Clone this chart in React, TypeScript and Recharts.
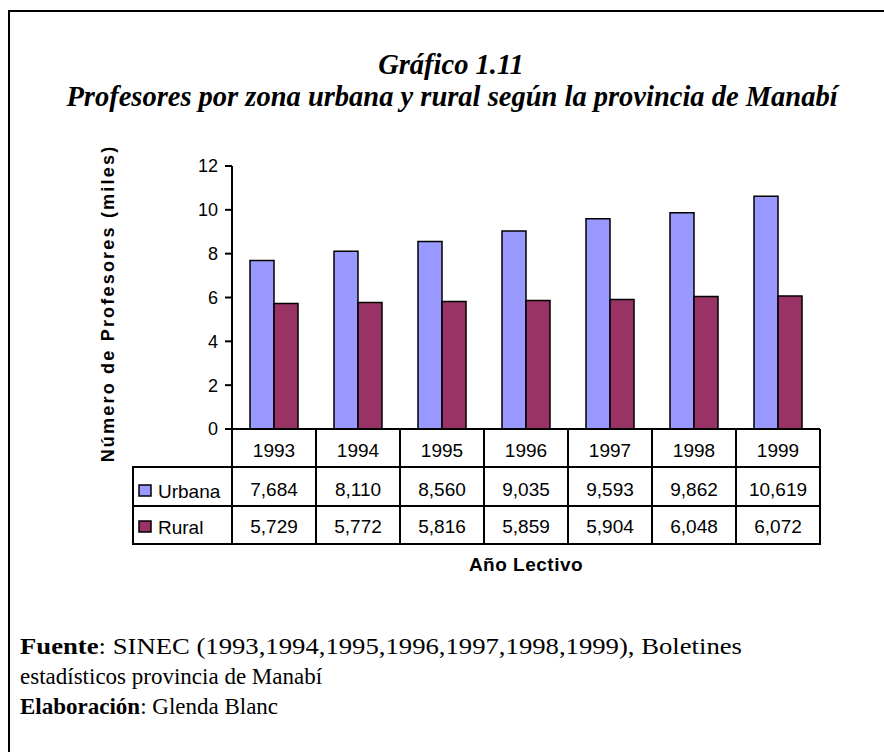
import React from 'react';
import { BarChart, Bar, XAxis, YAxis } from 'recharts';

const years = ['1993', '1994', '1995', '1996', '1997', '1998', '1999'];
const urbana = [7684, 8110, 8560, 9035, 9593, 9862, 10619];
const rural = [5729, 5772, 5816, 5859, 5904, 6048, 6072];
const yTicks = [0, 2, 4, 6, 8, 10, 12];

const seriesInfo = [
  { key: 'urbana', name: 'Urbana', color: '#9999FF', values: urbana },
  { key: 'rural', name: 'Rural', color: '#993366', values: rural },
];

const data = years.map((y, i) => ({
  year: y,
  urbana: urbana[i] / 1000,
  rural: rural[i] / 1000,
}));

const W = 884;
const H = 752;
const PLOT_LEFT = 232;
const PLOT_RIGHT = 820;
const PLOT_TOP = 166;
const PLOT_BOTTOM = 429;
const Y_AXIS_W = 60;
const X_AXIS_H = 150;
const STEP = (PLOT_RIGHT - PLOT_LEFT) / years.length;
const ROWS = [38, 39, 38];
const LEGEND_COL_W = 99;
const SANS = 'Liberation Sans, Arial, sans-serif';
const SERIF = 'Liberation Serif, Times New Roman, serif';
const fmt = (n: number) => n.toLocaleString('en-US');

const TableTick = (props: any) => {
  const { x, y, payload, index } = props;
  const left = x - STEP / 2;
  const right = x + STEP / 2;
  const r1 = y + ROWS[0];
  const r2 = r1 + ROWS[1];
  const r3 = r2 + ROWS[2];
  const i = index;
  const lines: React.ReactNode[] = [];
  lines.push(<line key="v" x1={left} y1={y} x2={left} y2={r3 + 1} stroke="#000" strokeWidth={2} />);
  if (i === years.length - 1) {
    lines.push(<line key="vr" x1={right} y1={y} x2={right} y2={r3 + 1} stroke="#000" strokeWidth={2} />);
  }
  const hx1 = i === 0 ? left - LEGEND_COL_W - 1 : left;
  [r1, r2, r3].forEach((ry, k) => {
    lines.push(<line key={'h' + k} x1={hx1} y1={ry} x2={right + 1} y2={ry} stroke="#000" strokeWidth={2} />);
  });
  const legend: React.ReactNode[] = [];
  if (i === 0) {
    const lx = left - LEGEND_COL_W;
    legend.push(<line key="lv" x1={lx} y1={r1} x2={lx} y2={r3 + 1} stroke="#000" strokeWidth={2} />);
    seriesInfo.forEach((s, k) => {
      const top = k === 0 ? r1 : r2;
      const mid = top + (k === 0 ? 24 : 21);
      legend.push(
        <g key={'lg' + k}>
          <rect x={lx + 6} y={mid - 6} width={12} height={11} fill={s.color} stroke="#000" strokeWidth={1.5} />
          <text x={lx + 25} y={mid + 6.5} fontFamily={SANS} fontSize={19} fill="#000">{s.name}</text>
        </g>
      );
    });
  }
  const idx = years.indexOf(payload.value);
  return (
    <g>
      {lines}
      {legend}
      <text x={x} y={y + 27.5} textAnchor="middle" fontFamily={SANS} fontSize={19} fill="#000">{payload.value}</text>
      <text x={x} y={r1 + 29} textAnchor="middle" fontFamily={SANS} fontSize={19} fill="#000">{fmt(urbana[idx])}</text>
      <text x={x} y={r2 + 27} textAnchor="middle" fontFamily={SANS} fontSize={19} fill="#000">{fmt(rural[idx])}</text>
    </g>
  );
};

const YLabel = (props: any) => {
  const vb = props.viewBox || {};
  const cx = vb.x - 64;
  const cy = vb.y + vb.height / 2 + 6;
  return (
    <text x={cx} y={cy} transform={`rotate(-90 ${cx} ${cy})`} textAnchor="middle" dominantBaseline="central" fontFamily={SANS} fontWeight="bold" fontSize={18} letterSpacing={2.2} fill="#000">
      Número de Profesores (miles)
    </text>
  );
};

const XLabel = (props: any) => {
  const vb = props.viewBox || {};
  const cx = vb.x + vb.width / 2;
  return (
    <text x={cx} y={vb.y + 142} textAnchor="middle" fontFamily={SANS} fontWeight="bold" fontSize={19} letterSpacing={0.5} fill="#000">
      Año Lectivo
    </text>
  );
};

export default function App() {
  return (
    <div style={{ position: 'absolute', left: 0, top: 0, width: W, height: H, overflow: 'hidden', background: '#fff' }}>
      <div style={{ position: 'absolute', left: 8, top: 10, width: W + 40, height: H + 40, border: '2px solid #000', boxSizing: 'border-box' }} />
      <div style={{ position: 'absolute', left: 0, top: 0 }}>
        <BarChart
          width={W}
          height={H}
          data={data}
          barSize={24}
          barGap={0}
          margin={{ top: PLOT_TOP, right: W - PLOT_RIGHT, left: PLOT_LEFT - Y_AXIS_W, bottom: H - PLOT_BOTTOM - X_AXIS_H }}
        >
          <XAxis xAxisId="top" dataKey="year" orientation="top" height={0} tick={false} tickLine={false} axisLine={{ stroke: '#808080', strokeWidth: 2 }} />
          <YAxis yAxisId="right" orientation="right" width={0} domain={[0, 12]} tick={false} tickLine={false} axisLine={{ stroke: '#808080', strokeWidth: 2 }} />
          <XAxis
            dataKey="year"
            height={X_AXIS_H}
            interval={0}
            tickLine={false}
            tickSize={0}
            tickMargin={0}
            axisLine={{ stroke: '#000', strokeWidth: 2 }}
            tick={<TableTick />}
            label={<XLabel />}
          />
          <YAxis
            width={Y_AXIS_W}
            domain={[0, 12]}
            ticks={yTicks}
            interval={0}
            tickSize={7}
            tickMargin={7}
            tickLine={{ stroke: '#000', strokeWidth: 2 }}
            axisLine={{ stroke: '#000', strokeWidth: 2 }}
            tick={{ fontFamily: SANS, fontSize: 18, fill: '#000' }}
            label={<YLabel />}
          />
          {seriesInfo.map((s) => (
            <Bar key={s.key} dataKey={s.key} name={s.name} fill={s.color} stroke="#000" strokeWidth={1.5} isAnimationActive={false} />
          ))}
        </BarChart>
      </div>
      <svg width={W} height={H} style={{ position: 'absolute', left: 0, top: 0, pointerEvents: 'none' }}>
        <text x={451} y={74} textAnchor="middle" fontFamily={SERIF} fontWeight="bold" fontStyle="italic" fontSize={28.5} fill="#000">Gráfico 1.11</text>
        <text x={452} y={106} textAnchor="middle" fontFamily={SERIF} fontWeight="bold" fontStyle="italic" fontSize={28.5} fill="#000">Profesores por zona urbana y rural según la provincia de Manabí</text>
        <text x={20} y={654} fontFamily={SERIF} fontSize={23} fill="#000" textLength={722} lengthAdjust="spacingAndGlyphs">
          <tspan fontWeight="bold">Fuente</tspan>: SINEC ({years.join(',')}), Boletines
        </text>
        <text x={20} y={684} fontFamily={SERIF} fontSize={23} fill="#000">estadísticos provincia de Manabí</text>
        <text x={20} y={714} fontFamily={SERIF} fontSize={23} fill="#000">
          <tspan fontWeight="bold">Elaboración</tspan>: Glenda Blanc
        </text>
      </svg>
    </div>
  );
}
